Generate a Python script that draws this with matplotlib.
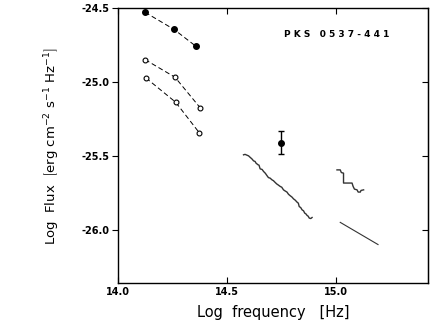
import matplotlib
matplotlib.use("Agg")
import matplotlib.pyplot as plt

# filled and open photometry points
filled_x = [14.124, 14.257, 14.358]
filled_y = [-24.529, -24.645, -24.760]
open1_x = [14.124, 14.261, 14.376]
open1_y = [-24.849, -24.968, -25.174]
open2_x = [14.128, 14.264, 14.373]
open2_y = [-24.973, -25.137, -25.345]

# single point with error bar
err_x = [14.748]
err_y = [-25.41]
err_dy = [0.075]

# optical spectrum
spec1_x = [14.575, 14.582, 14.590, 14.598, 14.606, 14.613, 14.621, 14.628, 14.632, 14.641,
           14.646, 14.651, 14.660, 14.667, 14.675, 14.682, 14.689, 14.697, 14.705, 14.712,
           14.720, 14.727, 14.733, 14.743, 14.750, 14.758, 14.766, 14.774, 14.781, 14.789,
           14.797, 14.804, 14.812, 14.820, 14.826, 14.830, 14.837, 14.843, 14.850, 14.855,
           14.861, 14.866, 14.871, 14.876, 14.883, 14.889]
spec1_y = [-25.493, -25.490, -25.495, -25.500, -25.511, -25.520, -25.534, -25.538, -25.549, -25.560,
           -25.563, -25.588, -25.592, -25.606, -25.618, -25.633, -25.647, -25.651, -25.662, -25.668,
           -25.680, -25.690, -25.696, -25.707, -25.712, -25.730, -25.738, -25.745, -25.760, -25.770,
           -25.779, -25.791, -25.800, -25.813, -25.820, -25.843, -25.850, -25.865, -25.872, -25.887,
           -25.893, -25.903, -25.908, -25.921, -25.924, -25.917]

# UV spectrum (staircase)
spec2_x = [15.003, 15.018, 15.023, 15.033, 15.033, 15.049, 15.072, 15.077, 15.083,
           15.095, 15.100, 15.110, 15.113, 15.125]
spec2_y = [-25.595, -25.595, -25.613, -25.617, -25.684, -25.684, -25.684, -25.707, -25.725,
           -25.730, -25.745, -25.745, -25.734, -25.730]

# straight power law
line_x = [15.018, 15.191]
line_y = [-25.950, -26.100]

x_ticks = [14.0, 14.5, 15.0]
y_ticks = [-24.5, -25.0, -25.5, -26.0]

fig = plt.figure(figsize=(4.36, 3.27), dpi=100)
ax = fig.add_axes([0.2706, 0.1346, 0.7111, 0.8409])

ax.plot(filled_x, filled_y, '--', color='black', lw=0.7, dashes=(5, 3),
        marker='o', ms=4, mfc='black', mec='black')
ax.plot(open1_x, open1_y, '--', color='black', lw=0.7, dashes=(5, 3),
        marker='o', ms=3.5, mfc='white', mec='black', mew=0.8)
ax.plot(open2_x, open2_y, '--', color='black', lw=0.7, dashes=(5, 3),
        marker='o', ms=3.5, mfc='white', mec='black', mew=0.8)
ax.errorbar(err_x, err_y, yerr=err_dy, fmt='o', color='black', ms=4,
            capsize=2.5, elinewidth=1, capthick=1)

ax.plot(spec1_x, spec1_y, color='#333333', lw=1.0)
ax.plot(spec2_x, spec2_y, color='#333333', lw=1.0)
ax.plot(line_x, line_y, color='#333333', lw=0.8)

ax.text(15.0, -24.68, 'P K S   0 5 3 7 - 4 4 1', fontsize=6.5, fontweight='bold',
        ha='center', va='center')

ax.set_xlim(14.0, 15.42)
ax.set_ylim(-26.36, -24.5)
ax.set_xticks(x_ticks)
ax.set_xticklabels(['%.1f' % t for t in x_ticks], fontsize=7, fontweight='bold')
ax.set_yticks(y_ticks)
ax.set_yticklabels(['%.1f' % t for t in y_ticks], fontsize=7, fontweight='bold')
ax.tick_params(axis='x', direction='in', length=4, top=True, pad=3)
ax.tick_params(axis='y', direction='out', length=4, pad=2)

right = ax.secondary_yaxis('right')
right.set_yticks(y_ticks)
right.tick_params(direction='in', length=4, labelright=False)

for s in ax.spines.values():
    s.set_linewidth(1.0)

ax.set_xlabel('Log  frequency   [Hz]', fontsize=10.5, labelpad=6)
ax.set_ylabel(r'Log  Flux  $\left[\mathrm{erg\ cm^{-2}\ s^{-1}\ Hz^{-1}}\right]$',
              fontsize=9.5, labelpad=14)

fig.savefig('out.png', dpi=100)
